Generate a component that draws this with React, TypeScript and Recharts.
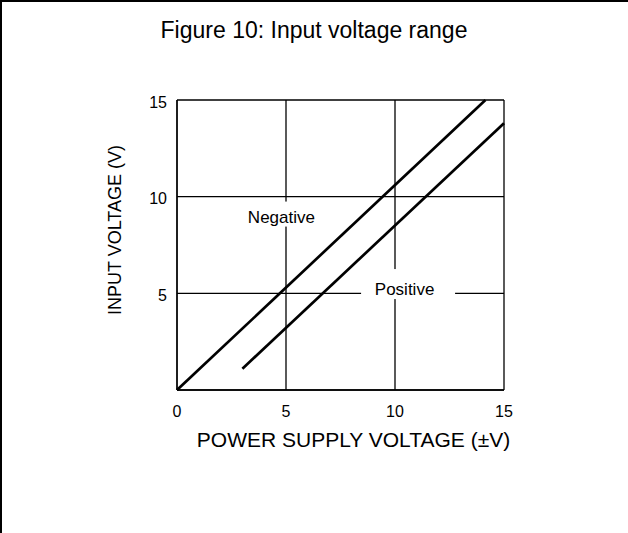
import React from 'react';
import { LineChart, Line, XAxis, YAxis, CartesianGrid, ReferenceDot } from 'recharts';

// curve end points (x = supply ±V, y = input V)
const negSupply = [0, 14.15];
const negInput = [0, 15];
const posSupply = [3, 15];
const posInput = [1.1, 13.8];

const axisTicks = [0, 5, 10, 15];

// in-plot labels, anchored in data units
const labelNames = ['Negative', 'Positive'];
const labelX = [4.79, 10.6];
const labelY = [9.1, 5.48];

const FONT = '"Liberation Sans", Arial, Helvetica, sans-serif';

// box that blanks the grid under each label
const labelBox = [
    { w: 80, h: 25, dx: 0, dy: 8.7 },
    { w: 94, h: 30, dx: -3.5, dy: 11 },
];

const negData = negSupply.map((x, i) => ({ x, y: negInput[i] }));
const posData = posSupply.map((x, i) => ({ x, y: posInput[i] }));

const makeLabel = (idx: number) => (props: any) => {
    const { cx, cy } = props;
    const b = labelBox[idx];
    return (
        <g>
            <rect x={cx - b.w / 2} y={cy - b.h / 2} width={b.w} height={b.h} fill="#fff" />
            <text x={cx + b.dx} y={cy + b.dy} textAnchor="middle" fontSize={17} fontFamily={FONT} fill="#000">
                {labelNames[idx]}
            </text>
        </g>
    );
};

const XTitle = (props: any) => {
    const { x, y, width } = props.viewBox;
    return (
        <text x={x + width / 2 + 13} y={y + 57} textAnchor="middle" fontSize={21} fontFamily={FONT} fill="#000">
            POWER SUPPLY VOLTAGE (±V)
        </text>
    );
};

const YTitle = (props: any) => {
    const { y, height } = props.viewBox;
    const cx = 121;
    const cy = y + height / 2 - 15;
    return (
        <text x={cx} y={cy} transform={`rotate(-90, ${cx}, ${cy})`} textAnchor="middle" fontSize={18} fontFamily={FONT} fill="#000">
            INPUT VOLTAGE (V)
        </text>
    );
};

export default function App() {
    return (
        <div style={{ position: 'absolute', left: 0, top: 0, width: 628, height: 533, background: '#fff' }}>
            <LineChart
                width={628}
                height={533}
                margin={{ top: 100, right: 124, left: 0, bottom: 0 }}
            >
                <CartesianGrid stroke="#000" strokeWidth={1.3} />
                <XAxis
                    type="number"
                    dataKey="x"
                    domain={[0, 15]}
                    ticks={axisTicks}
                    height={143}
                    tickLine={false}
                    tickSize={0}
                    tickMargin={16}
                    axisLine={{ stroke: '#000', strokeWidth: 1.3 }}
                    tick={{ fill: '#000', fontSize: 16, fontFamily: FONT }}
                    label={<XTitle />}
                />
                <YAxis
                    type="number"
                    dataKey="y"
                    domain={[0, 15]}
                    ticks={axisTicks}
                    width={177}
                    tickLine={false}
                    tickSize={0}
                    tickMargin={10}
                    axisLine={{ stroke: '#000', strokeWidth: 1.3 }}
                    tick={{ fill: '#000', fontSize: 16, fontFamily: FONT, dy: 2 }}
                    tickFormatter={(v: number) => (v === 0 ? '' : String(v))}
                    label={<YTitle />}
                />
                {labelNames.map((n, i) => (
                    <ReferenceDot key={n} x={labelX[i]} y={labelY[i]} r={0} shape={makeLabel(i)} />
                ))}
                <Line data={negData} dataKey="y" stroke="#000" strokeWidth={2.7} dot={false} isAnimationActive={false} />
                <Line data={posData} dataKey="y" stroke="#000" strokeWidth={2.7} dot={false} isAnimationActive={false} />
            </LineChart>
            <div
                style={{
                    position: 'absolute', left: 0, top: 19, width: 628, textAlign: 'center',
                    fontFamily: FONT, fontSize: 23, lineHeight: '23px', color: '#000',
                }}
            >
                Figure 10: Input voltage range
            </div>
            <div
                style={{
                    position: 'absolute', left: 0, top: 0, width: 628, height: 533, boxSizing: 'border-box',
                    borderTop: '2px solid #000', borderLeft: '2px solid #000', pointerEvents: 'none',
                }}
            />
        </div>
    );
}
